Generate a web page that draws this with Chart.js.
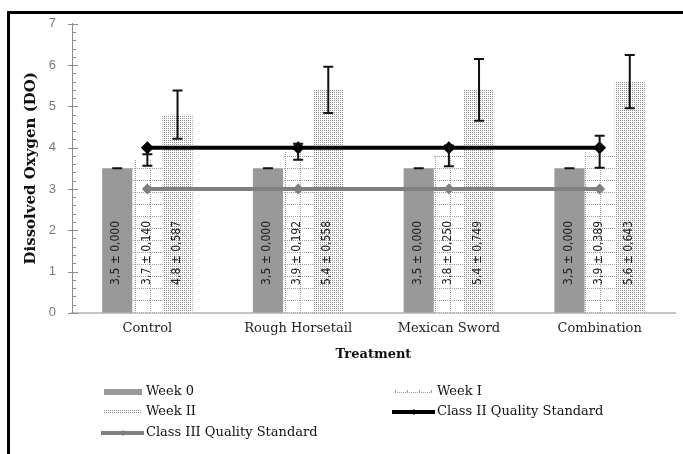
<!DOCTYPE html>
<html>
<head>
<meta charset="utf-8">
<title>Dissolved Oxygen by Treatment</title>
<script src="https://cdn.jsdelivr.net/npm/chart.js@4.4.1/dist/chart.umd.min.js"></script>
<style>
  html, body { margin: 0; padding: 0; background: #fff; }
  #wrap { position: relative; width: 683px; height: 454px; overflow: hidden; }
  #c { position: absolute; left: 0; top: 0; }
  #frame { position: absolute; left: 7px; top: 11px; right: -5px; bottom: -5px;
           border-top: 3px solid #000; border-left: 3px solid #000; pointer-events: none; }
</style>
</head>
<body>
<div id="wrap">
  <canvas id="c" width="683" height="454"></canvas>
  <div id="frame"></div>
</div>
<script>
// Treatments on the x axis
const categories = ['Control', 'Rough Horsetail', 'Mexican Sword', 'Combination'];

// Mean dissolved oxygen and standard deviation per week
const week0 = [3.5, 3.5, 3.5, 3.5];
const week0Sd = [0.000, 0.000, 0.000, 0.000];
const week1 = [3.7, 3.9, 3.8, 3.9];
const week1Sd = [0.140, 0.192, 0.250, 0.389];
const week2 = [4.8, 5.4, 5.4, 5.6];
const week2Sd = [0.587, 0.558, 0.749, 0.643];

// Water quality standards
const classII = [4, 4, 4, 4];
const classIII = [3, 3, 3, 3];

// Y axis range and labelled ticks
const yTickLabels = [0, 1, 2, 3, 4, 5, 6, 7];

const SERIF = '"DejaVu Serif", "Liberation Serif", serif';
const SANS = '"Liberation Sans", Arial, sans-serif';
const COND = '"DejaVu Sans Condensed", "Liberation Sans Narrow", "DejaVu Sans", sans-serif';

const canvas = document.getElementById('c');
const ctx0 = canvas.getContext('2d');

function makePattern(w, h, paint) {
  const c = document.createElement('canvas');
  c.width = w; c.height = h;
  const g = c.getContext('2d');
  g.fillStyle = '#fff';
  g.fillRect(0, 0, w, h);
  paint(g);
  return ctx0.createPattern(c, 'repeat');
}

// Week I: sparse dotted grid
const weekIPattern = makePattern(15, 12, g => {
  g.fillStyle = '#9a9a9a';
  for (let x = 0; x < 15; x += 2) g.fillRect(x, 0, 1, 1);
  for (let y = 0; y < 12; y += 2) g.fillRect(0, y, 1, 1);
});
// Week II: dense dots
const weekIIPattern = makePattern(2, 2, g => {
  g.fillStyle = '#8e8e8e';
  g.fillRect(0, 0, 1, 1);
});

const fmt = (v, d) => v.toFixed(d).replace('.', ',');

// Error bars from the SD arrays
const errorBars = {
  id: 'errorBars',
  afterDatasetsDraw(chart) {
    const { ctx } = chart;
    const y = chart.scales.y;
    chart.data.datasets.forEach((ds, i) => {
      if (!ds.errors) return;
      const meta = chart.getDatasetMeta(i);
      meta.data.forEach((bar, j) => {
        const v = ds.data[j], e = ds.errors[j];
        const yt = y.getPixelForValue(v + e);
        const yb = y.getPixelForValue(v - e);
        const x = bar.x;
        ctx.save();
        ctx.strokeStyle = '#111';
        ctx.lineWidth = 2;
        ctx.beginPath();
        ctx.moveTo(x, yt); ctx.lineTo(x, yb);
        ctx.moveTo(x - 5, yt); ctx.lineTo(x + 5, yt);
        ctx.moveTo(x - 5, yb); ctx.lineTo(x + 5, yb);
        ctx.stroke();
        ctx.restore();
      });
    });
  }
};

// Vertical "mean ± SD" labels inside the bars
const barLabels = {
  id: 'barLabels',
  afterDatasetsDraw(chart) {
    const { ctx } = chart;
    const y = chart.scales.y;
    const yc = y.getPixelForValue(1.45);
    chart.data.datasets.forEach((ds, i) => {
      if (!ds.errors) return;
      const meta = chart.getDatasetMeta(i);
      meta.data.forEach((bar, j) => {
        const txt = fmt(ds.data[j], 1) + ' \u00B1 ' + fmt(ds.errors[j], 3);
        ctx.save();
        ctx.translate(bar.x - 1, yc);
        ctx.rotate(-Math.PI / 2);
        ctx.font = '12px ' + COND;
        ctx.fillStyle = '#222';
        ctx.textAlign = 'center';
        ctx.textBaseline = 'middle';
        ctx.fillText(txt, 0, 0);
        ctx.restore();
      });
    });
  }
};

// Major and minor tick marks on the y axis
const yTickMarks = {
  id: 'yTickMarks',
  afterDraw(chart) {
    const { ctx } = chart;
    const y = chart.scales.y;
    const ax = chart.chartArea.left;
    ctx.save();
    ctx.strokeStyle = '#8c8c8c';
    ctx.lineWidth = 1;
    ctx.beginPath();
    for (let k = 0; k <= 35; k++) {
      const py = Math.round(y.getPixelForValue(k / 5)) + 0.5;
      if (k % 5 === 0) { ctx.moveTo(ax - 4, py); ctx.lineTo(ax + 6, py); }
      else { ctx.moveTo(ax, py); ctx.lineTo(ax + 4, py); }
    }
    ctx.stroke();
    ctx.restore();
  }
};

// Two-column legend under the axis title
const gridLegend = {
  id: 'gridLegend',
  afterDraw(chart) {
    const { ctx } = chart;
    const ca = chart.chartArea;
    const col = [ca.left + 32, ca.left + 323];
    const row0 = ca.bottom + 79, rowH = 20.5;
    const slots = [[0, 0], [1, 0], [0, 1], [1, 1], [0, 2]];
    ctx.save();
    ctx.font = '13px ' + SERIF;
    ctx.textBaseline = 'middle';
    chart.data.datasets.forEach((ds, di) => {
      const [c, r] = slots[di];
      const x = col[c], yy = Math.round(row0 + r * rowH);
      const sw = 38;
      if (ds.type === 'line') {
        ctx.strokeStyle = ds.borderColor;
        ctx.lineWidth = 4;
        ctx.beginPath(); ctx.moveTo(x - 3, yy); ctx.lineTo(x + sw + 2, yy); ctx.stroke();
        ctx.fillStyle = ds.borderColor;
        ctx.beginPath();
        const cx = x + sw / 2;
        ctx.moveTo(cx, yy - 3); ctx.lineTo(cx + 3, yy); ctx.lineTo(cx, yy + 3); ctx.lineTo(cx - 3, yy); ctx.closePath();
        ctx.fill();
      } else if (di === 0) {
        ctx.fillStyle = ds.backgroundColor;
        ctx.fillRect(x, yy - 3, sw, 6);
      } else if (di === 1) {
        // dotted line swatch with small ticks
        ctx.fillStyle = '#9a9a9a';
        for (let k = 0; k < sw; k += 2) ctx.fillRect(x + k, yy, 1, 1);
        for (let k = 0; k <= sw; k += 12) ctx.fillRect(x + k, yy - 2, 1, 2);
      } else {
        ctx.save();
        ctx.translate(x, yy - 2);
        ctx.fillStyle = ds.backgroundColor;
        ctx.fillRect(0, 0, sw, 4);
        ctx.restore();
      }
      ctx.fillStyle = '#111';
      ctx.fillText(ds.label, x + sw + 4, yy);
    });
    ctx.restore();
  }
};

new Chart(canvas, {
  data: {
    labels: categories,
    datasets: [
      { type: 'bar', label: 'Week 0', data: week0, errors: week0Sd, backgroundColor: '#999999', order: 2 },
      { type: 'bar', label: 'Week I', data: week1, errors: week1Sd, backgroundColor: weekIPattern, order: 2 },
      { type: 'bar', label: 'Week II', data: week2, errors: week2Sd, backgroundColor: weekIIPattern, order: 2 },
      { type: 'line', label: 'Class II Quality Standard', data: classII, borderColor: '#000', backgroundColor: '#000',
        borderWidth: 4, pointStyle: 'rectRot', pointRadius: 6.5, pointBorderWidth: 0, order: 1 },
      { type: 'line', label: 'Class III Quality Standard', data: classIII, borderColor: '#808080', backgroundColor: '#808080',
        borderWidth: 4, pointStyle: 'rectRot', pointRadius: 5.5, pointBorderWidth: 0, order: 1 }
    ]
  },
  options: {
    responsive: false,
    devicePixelRatio: 1,
    animation: false,
    layout: { padding: { left: 0, right: 8, top: 23, bottom: 88 } },
    datasets: { bar: { categoryPercentage: 0.6, barPercentage: 1.0 } },
    plugins: { legend: { display: false }, tooltip: { enabled: false } },
    scales: {
      x: {
        offset: true,
        grid: { display: false, drawTicks: false },
        border: { color: '#c4c4c4', width: 2 },
        ticks: { padding: 8, color: '#222', font: { family: SERIF, size: 13 } },
        title: { display: true, text: 'Treatment', color: '#111',
                 font: { family: SERIF, size: 13, weight: 'bold' }, padding: { top: 2, bottom: 4 } }
      },
      y: {
        min: 0, max: 7,
        afterFit(s) { s.width = 72; },
        afterBuildTicks(s) { s.ticks = yTickLabels.map(v => ({ value: v })); },
        grid: { display: false, drawTicks: false },
        border: { color: '#8c8c8c', width: 1 },
        ticks: { padding: 16, color: '#7a7a7a', font: { family: SANS, size: 13 } },
        title: { display: true, text: 'Dissolved Oxygen (DO)', color: '#111',
                 font: { family: SERIF, size: 15, weight: 'bold' }, padding: { top: 22 } }
      }
    }
  },
  plugins: [errorBars, barLabels, yTickMarks, gridLegend]
});
</script>
</body>
</html>
